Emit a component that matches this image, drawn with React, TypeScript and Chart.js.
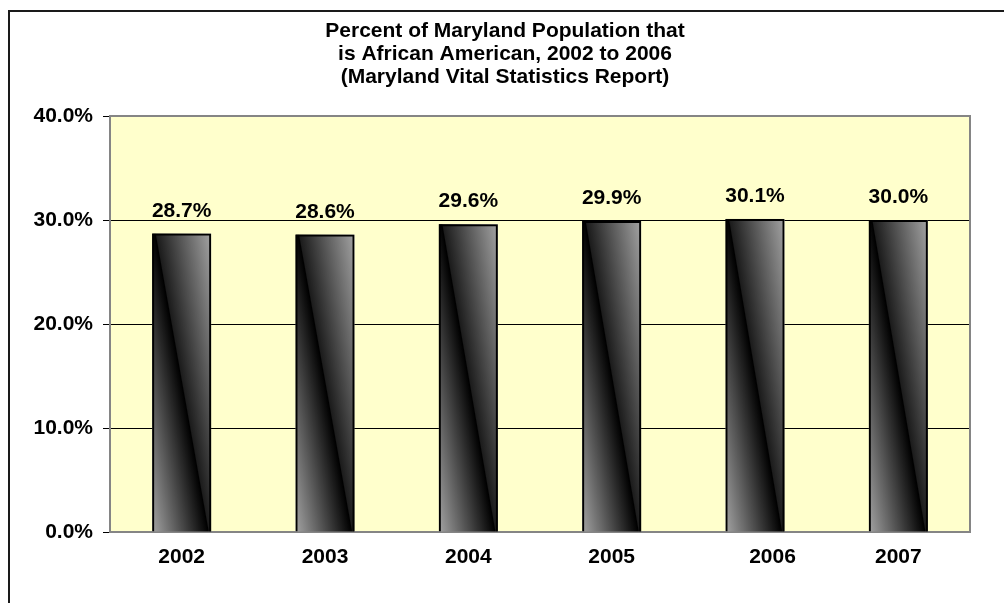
import React, { useEffect, useRef } from 'react';
import { Chart, registerables } from 'chart.js';

Chart.register(...registerables);

const titleLines = [
  'Percent of Maryland Population that',
  'is African American, 2002 to 2006',
  '(Maryland Vital Statistics Report)',
];
const categories = ['2002', '2003', '2004', '2005', '      2006', '2007'];
const percentValues = [28.7, 28.6, 29.6, 29.9, 30.1, 30.0];
const valueLabels = ['28.7%', '28.6%', '29.6%', '29.9%', '30.1%', '30.0%'];
const yMin = 0;
const yMax = 40;
const yStep = 10;

const FONT = "'Liberation Sans', Arial, sans-serif";

const framePlugin = {
  id: 'frame',
  beforeDraw(chart: any) {
    const { ctx, chartArea: a, width, height } = chart;
    ctx.save();
    ctx.fillStyle = '#ffffff';
    ctx.fillRect(0, 0, width, height);
    ctx.strokeStyle = '#1a1a1a';
    ctx.lineWidth = 2;
    ctx.beginPath();
    ctx.moveTo(9, height + 5);
    ctx.lineTo(9, 11);
    ctx.lineTo(width + 5, 11);
    ctx.stroke();
    ctx.fillStyle = '#FFFFCC';
    ctx.fillRect(a.left, a.top, a.right - a.left, a.bottom - a.top);
    // title
    ctx.fillStyle = '#000';
    ctx.font = `bold 21px ${FONT}`;
    ctx.textAlign = 'center';
    ctx.textBaseline = 'middle';
    titleLines.forEach((line, i) => {
      ctx.fillText(line, 505, 31 + i * 23.3);
    });
    ctx.restore();
  },
  beforeDatasetsDraw(chart: any) {
    const { ctx, chartArea: a } = chart;
    ctx.save();
    ctx.strokeStyle = '#858585';
    ctx.lineWidth = 2;
    ctx.strokeRect(a.left, a.top, a.right - a.left, a.bottom - a.top);
    const meta = chart.getDatasetMeta(0);
    meta.data.forEach((el: any) => {
      const { x, y, base, width } = el.getProps(['x', 'y', 'base', 'width'], true);
      const left = x - width / 2;
      const right = x + width / 2;
      const h = base - y;
      const x1 = left + 3, y1 = y, x2 = right - 3, y2 = base;
      const dx = x2 - x1, dy = y2 - y1;
      const len = Math.hypot(dx, dy);
      const nx = dy / len, ny = -dx / len;
      const mx = (x1 + x2) / 2, my = (y1 + y2) / 2;
      const L = (width - 2) * (dy / len);
      const g = ctx.createLinearGradient(mx - nx * L, my - ny * L, mx + nx * L, my + ny * L);
      g.addColorStop(0, '#a6a6a6');
      g.addColorStop(0.5, '#000000');
      g.addColorStop(0.51, '#1c1c1c');
      g.addColorStop(1, '#a6a6a6');
      ctx.fillStyle = g;
      ctx.fillRect(left, y, width, h);
    });
    ctx.restore();
  },
  afterDatasetsDraw(chart: any) {
    const { ctx } = chart;
    ctx.save();
    ctx.fillStyle = '#000';
    ctx.font = `bold 21px ${FONT}`;
    ctx.textAlign = 'center';
    ctx.textBaseline = 'alphabetic';
    const meta = chart.getDatasetMeta(0);
    meta.data.forEach((el: any, i: number) => {
      const { x, y } = el.getProps(['x', 'y'], true);
      ctx.fillText(valueLabels[i], x, y - 17);
    });
    ctx.restore();
  },
};

export default function App() {
  const ref = useRef<HTMLCanvasElement>(null);
  useEffect(() => {
    if (!ref.current) return;
    const chart = new Chart(ref.current, {
      type: 'bar',
      data: {
        labels: categories,
        datasets: [
          {
            data: percentValues,
            backgroundColor: 'rgba(0,0,0,0)',
            borderColor: '#000',
            borderWidth: 2,
            barPercentage: 0.412,
            categoryPercentage: 1,
          },
        ],
      },
      options: {
        responsive: false,
        animation: false,
        devicePixelRatio: 1,
        layout: { padding: { left: 0, right: 34, top: 116, bottom: 0 } },
        plugins: {
          legend: { display: false },
          tooltip: { enabled: false },
          title: { display: false },
        },
        scales: {
          x: {
            grid: { display: false, drawTicks: false },
            border: { display: false },
            ticks: {
              color: '#000',
              font: { family: FONT, size: 21, weight: 'bold' },
              padding: 13,
              maxRotation: 0,
              autoSkip: false,
            },
            afterFit(scale: any) {
              scale.height = 71;
            },
          },
          y: {
            min: yMin,
            max: yMax,
            grid: {
              color: (c: any) =>
                c.tick && (c.tick.value === yMin || c.tick.value === yMax) ? 'rgba(0,0,0,0)' : '#000',
              tickColor: '#000',
              tickLength: 7,
              lineWidth: 1,
            },
            border: { display: false },
            ticks: {
              stepSize: yStep,
              color: '#000',
              padding: 10,
              font: { family: FONT, size: 21, weight: 'bold' },
              callback: (v: any) => Number(v).toFixed(1) + '%',
            },
            afterFit(scale: any) {
              scale.width = 110;
            },
          },
        },
      },
      plugins: [framePlugin],
    });
    return () => chart.destroy();
  }, []);
  return (
    <div style={{ position: 'fixed', left: 0, top: 0, width: 1004, height: 603, background: '#fff' }}>
      <canvas ref={ref} width={1004} height={603} style={{ display: 'block' }} />
    </div>
  );
}
